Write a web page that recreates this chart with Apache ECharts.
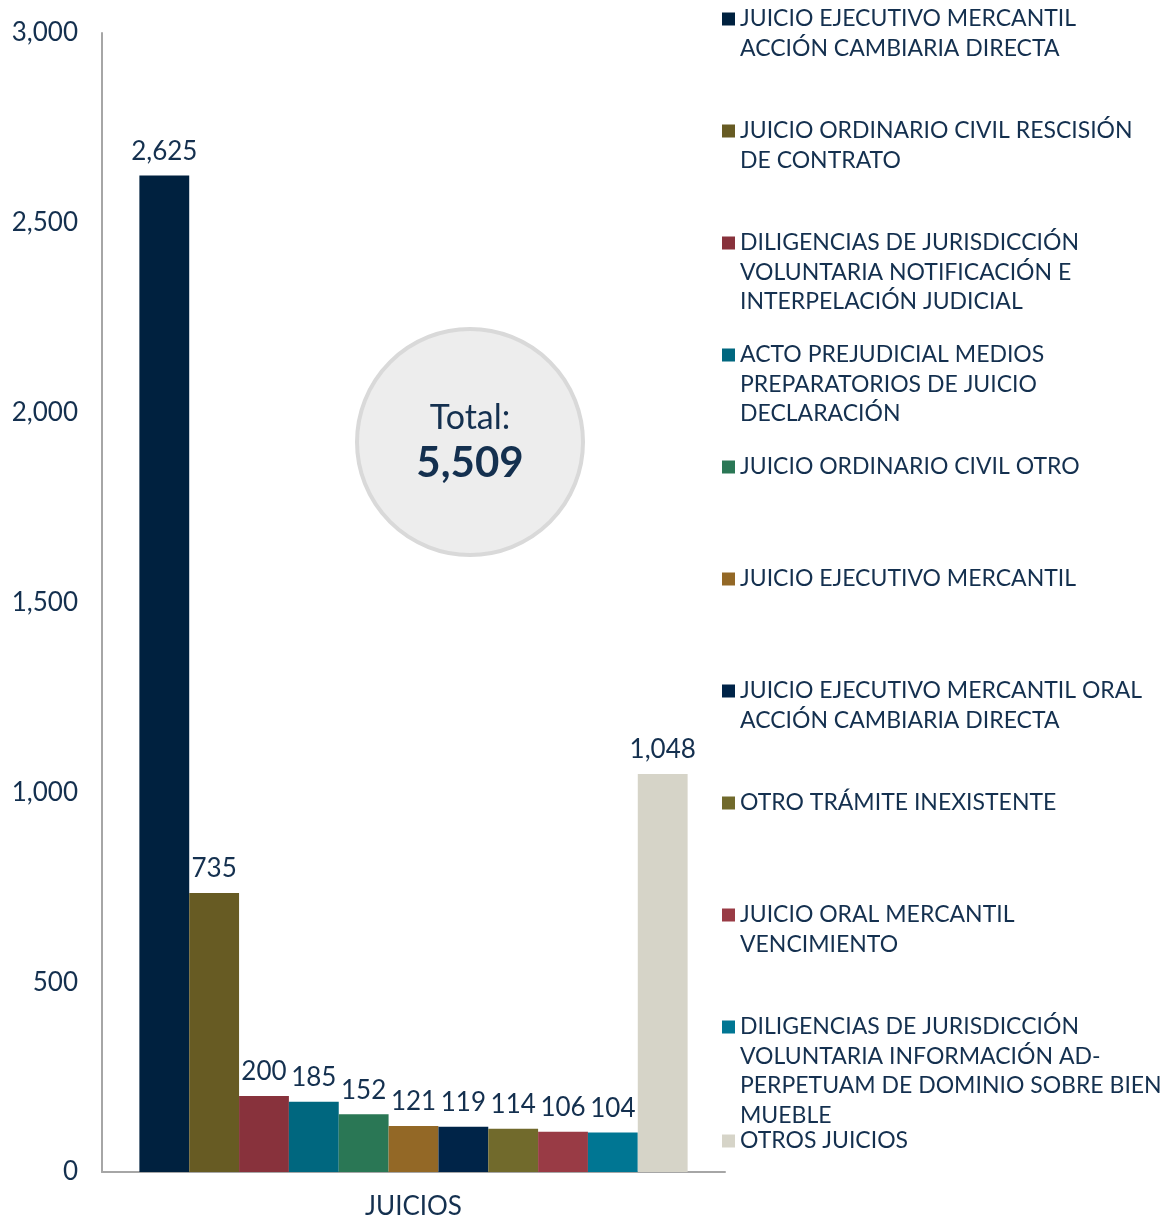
<!DOCTYPE html>
<html>
<head>
	<meta charset="UTF-8">
	<title></title>
	<script src="https://cdn.jsdelivr.net/npm/echarts@6/dist/echarts.min.js"></script>
	<style>
		html, body { margin: 0; padding: 0; background: #fff; }
	</style>
</head>
<body>
	<div id="chart" style="width: 1172px; height: 1220px;"></div>
	<script type="text/javascript">
		// datos
		var categories = ['JUICIOS'];
		var seriesNames = [
			'JUICIO EJECUTIVO MERCANTIL ACCIÓN CAMBIARIA DIRECTA',
			'JUICIO ORDINARIO CIVIL RESCISIÓN DE CONTRATO',
			'DILIGENCIAS DE JURISDICCIÓN VOLUNTARIA NOTIFICACIÓN E INTERPELACIÓN JUDICIAL',
			'ACTO PREJUDICIAL MEDIOS PREPARATORIOS DE JUICIO DECLARACIÓN',
			'JUICIO ORDINARIO CIVIL OTRO',
			'JUICIO EJECUTIVO MERCANTIL',
			'JUICIO EJECUTIVO MERCANTIL ORAL ACCIÓN CAMBIARIA DIRECTA',
			'OTRO TRÁMITE INEXISTENTE',
			'JUICIO ORAL MERCANTIL VENCIMIENTO',
			'DILIGENCIAS DE JURISDICCIÓN VOLUNTARIA INFORMACIÓN AD-PERPETUAM DE DOMINIO SOBRE BIEN MUEBLE',
			'OTROS JUICIOS'
		];
		var legendLines = [
			['JUICIO EJECUTIVO MERCANTIL', 'ACCIÓN CAMBIARIA DIRECTA'],
			['JUICIO ORDINARIO CIVIL RESCISIÓN', 'DE CONTRATO'],
			['DILIGENCIAS DE JURISDICCIÓN', 'VOLUNTARIA NOTIFICACIÓN E', 'INTERPELACIÓN JUDICIAL'],
			['ACTO PREJUDICIAL MEDIOS', 'PREPARATORIOS DE JUICIO', 'DECLARACIÓN'],
			['JUICIO ORDINARIO CIVIL OTRO'],
			['JUICIO EJECUTIVO MERCANTIL'],
			['JUICIO EJECUTIVO MERCANTIL ORAL', 'ACCIÓN CAMBIARIA DIRECTA'],
			['OTRO TRÁMITE INEXISTENTE'],
			['JUICIO ORAL MERCANTIL', 'VENCIMIENTO'],
			['DILIGENCIAS DE JURISDICCIÓN', 'VOLUNTARIA INFORMACIÓN AD-', 'PERPETUAM DE DOMINIO SOBRE BIEN', 'MUEBLE'],
			['OTROS JUICIOS']
		];
		var values = [2625, 735, 200, 185, 152, 121, 119, 114, 106, 104, 1048];
		var colors = ['#00213F', '#675B23', '#88323C', '#00677F', '#2A7755', '#936826',
			'#002448', '#716A2C', '#993B45', '#007693', '#D6D4C8'];

		var textColor = '#14304F';
		var font = 'Lato';
		var fmt = function(v) { return Number(v).toLocaleString('en-US'); };

		var total = values.reduce(function(a, b) { return a + b; }, 0);

		var chart = echarts.init(document.getElementById('chart'));

		var series = seriesNames.map(function(name, i) {
			return {
				name: name,
				type: 'bar',
				data: [values[i]],
				itemStyle: { color: colors[i] },
				barGap: '0%',
				barCategoryGap: '12%',
				label: {
					show: true,
					position: 'top',
					distance: 11,
					color: textColor,
					fontFamily: font,
					fontSize: 26,
					formatter: function(p) { return fmt(p.value); }
				}
			};
		});

		// una leyenda por serie, cada 112px; el cuadro queda en la primera linea
		var lineH = 29.5;
		var legends = seriesNames.map(function(name, i) {
			var n = legendLines[i].length;
			var h = n * lineH;
			var y1 = 19 + 112 * i + (i == 10 ? 2 : 0);
			var sq = 'M0,' + (lineH / 2 - 6.5) + 'h13v13h-13z M0,0 M13,' + h;
			return {
				data: [{ name: name, icon: 'path://' + sq }],
				left: 722,
				top: y1 - lineH / 2,
				padding: 0,
				orient: 'vertical',
				itemWidth: 13,
				itemHeight: h,
				itemGap: 0,
				selectedMode: false,
				formatter: function() { return legendLines[i].join('\n'); },
				textStyle: {
					color: textColor,
					fontFamily: font,
					fontSize: 23,
					lineHeight: lineH
				}
			};
		});

		var option = {
			animation: false,
			backgroundColor: '#ffffff',
			grid: { left: 102, right: 447, top: 33, bottom: 48, containLabel: false },
			legend: legends,
			xAxis: {
				type: 'category',
				data: categories,
				axisLine: { lineStyle: { color: '#A6A6A6', width: 2 } },
				axisTick: { show: false },
				axisLabel: { color: textColor, fontFamily: font, fontSize: 26, margin: 22 }
			},
			yAxis: {
				type: 'value',
				min: 0,
				max: 3000,
				interval: 500,
				axisLine: { show: true, lineStyle: { color: '#A6A6A6', width: 2 } },
				axisTick: { show: false },
				splitLine: { show: false },
				axisLabel: {
					color: textColor, fontFamily: font, fontSize: 26, margin: 24,
					padding: [4, 0, 0, 0],
					formatter: function(v) { return fmt(v); }
				}
			},
			graphic: [
				{
					type: 'circle',
					shape: { cx: 470, cy: 442, r: 113 },
					style: { fill: '#EDEDED', stroke: '#D9D9D9', lineWidth: 4 },
					z: 10
				},
				{
					type: 'text',
					x: 470, y: 418,
					style: { text: 'Total:', fill: textColor, font: '34px ' + font, textAlign: 'center', textVerticalAlign: 'middle' },
					z: 11
				},
				{
					type: 'text',
					x: 470, y: 463,
					style: { text: fmt(total), fill: textColor, font: 'bold 42px ' + font, textAlign: 'center', textVerticalAlign: 'middle' },
					z: 11
				}
			],
			series: series
		};

		chart.setOption(option);
	</script>
</body>
</html>
